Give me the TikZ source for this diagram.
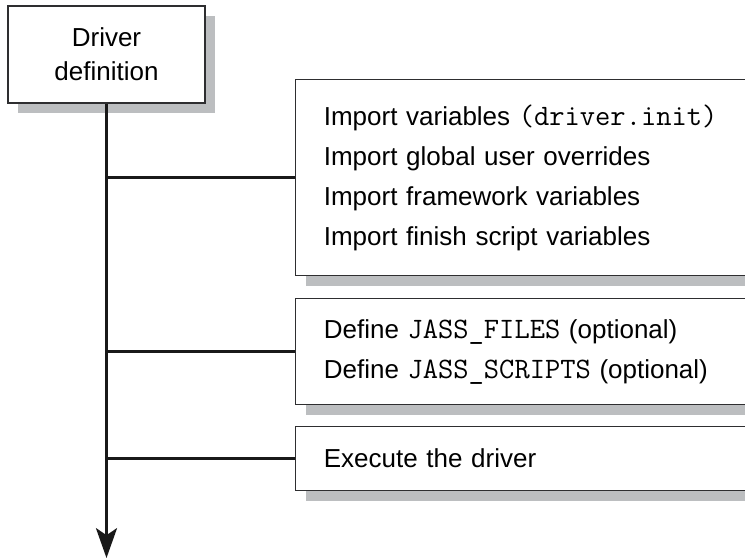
\documentclass[tikz,border=0pt]{standalone}
\usepackage{fontspec}
\setmainfont{Liberation Sans}
\setmonofont{Latin Modern Mono}[Scale=1.14]
\usetikzlibrary{shadows,arrows.meta}
\definecolor{shadowgray}{HTML}{BCBEC0}
\definecolor{edgegray}{HTML}{2E2E30}
\tikzset{
  boxshadow/.style={drop shadow={shadow xshift=5.7pt, shadow yshift=-5.7pt,
      fill=shadowgray, opacity=1}},
  stepbox/.style={draw=edgegray, line width=0.8pt, fill=white, boxshadow,
      anchor=north west, inner xsep=16pt, inner ysep=0pt, text width=255pt,
      align=left, font=\fontsize{14.8}{22.8}\selectfont},
  link/.style={line width=1.4pt, draw=black!90}
}
\begin{document}
\begin{tikzpicture}[x=0.02cm, y=-0.02cm]
                                \clip (0,0) rectangle (745,560);
                                % start of the driver
                                \node[draw=edgegray, line width=0.8pt, fill=white, boxshadow,
                                      minimum width=112pt, minimum height=55pt, align=center,
                                      font=\fontsize{14.8}{19.3}\selectfont]
                                      (driver) at (106.5,54.5) {Driver\\definition};
                                % the three stages
                                \node[stepbox, minimum height=111.5pt] (imports) at (295,79)
                                      {Import variables \texttt{(driver.init)}\\
                                       Import global user overrides\\
                                       Import framework variables\\
                                       Import finish script variables\\[-4pt]};
                                \node[stepbox, minimum height=60.3pt] (defines) at (295,298)
                                      {Define \texttt{JASS\_FILES} (optional)\\
                                       Define \texttt{JASS\_SCRIPTS} (optional)};
                                \node[stepbox, minimum height=36.4pt] (execute) at (295,426)
                                      {Execute the driver};
                                \coordinate (end) at (106.5,558);
                                \draw[link, -{Stealth[length=17pt, width=12pt, inset=4pt]}] (driver.south) -- (end);
                                \draw[link] (driver.south |- imports.west) -- (imports.west);
                                \draw[link] (driver.south |- defines.west) -- (defines.west);
                                \draw[link] (driver.south |- execute.west) -- (execute.west);
                            \end{tikzpicture}
\end{document}
